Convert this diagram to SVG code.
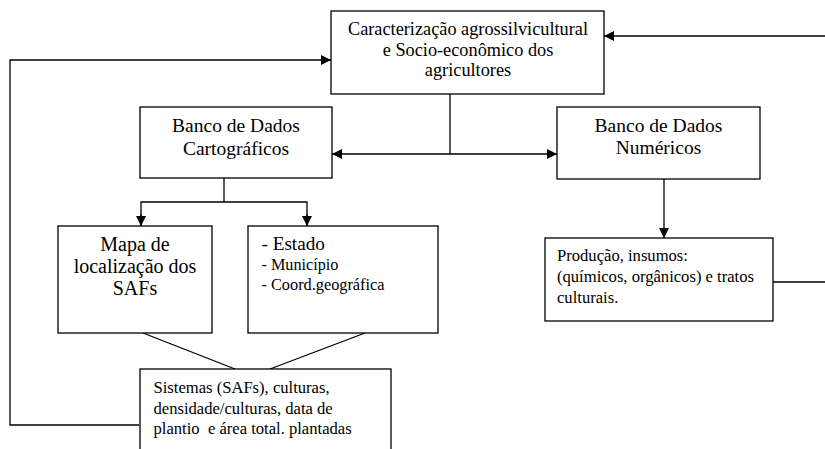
<svg xmlns="http://www.w3.org/2000/svg" width="825" height="449" viewBox="0 0 825 449">
<style>
.box{fill:#fff;stroke:#000;stroke-width:1.3}
.ln{fill:none;stroke:#000;stroke-width:1.3}
</style>
<defs>
<marker id="ah" viewBox="0 0 10 10" refX="10" refY="5" markerWidth="10" markerHeight="10" markerUnits="userSpaceOnUse" orient="auto">
<path d="M0,0 L10,5 L0,10 Z" fill="#000"/>
</marker>
</defs>
<rect width="825" height="449" fill="#fff"/>
<g id="connectors">
<line class="ln" x1="825" y1="36" x2="604" y2="36" marker-end="url(#ah)"/>
<polyline class="ln" points="139,425 10,425 10,60 331,60" marker-end="url(#ah)"/>
<line class="ln" x1="450" y1="94" x2="450" y2="154"/>
<line class="ln" x1="450" y1="154" x2="332" y2="154" marker-end="url(#ah)"/>
<line class="ln" x1="450" y1="154" x2="557" y2="154" marker-end="url(#ah)"/>
<line class="ln" x1="664" y1="179" x2="664" y2="238" marker-end="url(#ah)"/>
<line class="ln" x1="773" y1="282" x2="825" y2="282"/>
<line class="ln" x1="224" y1="178" x2="224" y2="202"/>
<polyline class="ln" points="141,226 141,202 307,202 307,226"/>
<line class="ln" x1="141" y1="214" x2="141" y2="226" marker-end="url(#ah)"/>
<line class="ln" x1="307" y1="214" x2="307" y2="226" marker-end="url(#ah)"/>
<line class="ln" x1="143" y1="333" x2="235" y2="369"/>
<line class="ln" x1="365" y1="333" x2="270" y2="369"/>
</g>
<g id="caracterizacao" font-family="Liberation Serif, Times New Roman, serif" font-size="18.3" text-anchor="middle">
<rect class="box" x="331" y="11" width="273" height="83"/>
<text x="468" y="35">Caracterização agrossilvicultural</text>
<text x="468" y="55.5">e Socio-econômico dos</text>
<text x="468" y="76">agricultores</text>
</g>
<g id="cartograficos" font-family="Liberation Serif, Times New Roman, serif" font-size="19.5" text-anchor="middle">
<rect class="box" x="140" y="107" width="192" height="71"/>
<text x="236" y="132">Banco de Dados</text>
<text x="236" y="155">Cartográficos</text>
</g>
<g id="numericos" font-family="Liberation Serif, Times New Roman, serif" font-size="19.5" text-anchor="middle">
<rect class="box" x="557" y="107" width="203" height="72"/>
<text x="658.5" y="132">Banco de Dados</text>
<text x="658.5" y="154">Numéricos</text>
</g>
<g id="mapa" font-family="Liberation Serif, Times New Roman, serif" font-size="20" text-anchor="middle">
<rect class="box" x="58" y="226" width="154" height="107"/>
<text x="135" y="251">Mapa de</text>
<text x="135" y="273">localização dos</text>
<text x="135" y="295">SAFs</text>
</g>
<g id="estado" font-family="Liberation Serif, Times New Roman, serif">
<rect class="box" x="248" y="226" width="190" height="107"/>
<text x="261.5" y="250" font-size="19.2">- Estado</text>
<text x="261.5" y="269.5" font-size="16.2">- Município</text>
<text x="261.5" y="289.5" font-size="16.3">- Coord.geográfica</text>
</g>
<g id="producao" font-family="Liberation Serif, Times New Roman, serif" font-size="16.6">
<rect class="box" x="545" y="238" width="228" height="83"/>
<text x="557" y="260.5">Produção, insumos:</text>
<text x="557" y="281.5">(químicos, orgânicos) e tratos</text>
<text x="557" y="302.5">culturais.</text>
</g>
<g id="sistemas" font-family="Liberation Serif, Times New Roman, serif" font-size="16.6">
<rect class="box" x="140" y="369" width="251" height="90"/>
<text x="153.5" y="393">Sistemas (SAFs), culturas,</text>
<text x="153.5" y="413.5">densidade/culturas, data de</text>
<text x="153.5" y="434" xml:space="preserve">plantio  e área total. plantadas</text>
</g>
</svg>
